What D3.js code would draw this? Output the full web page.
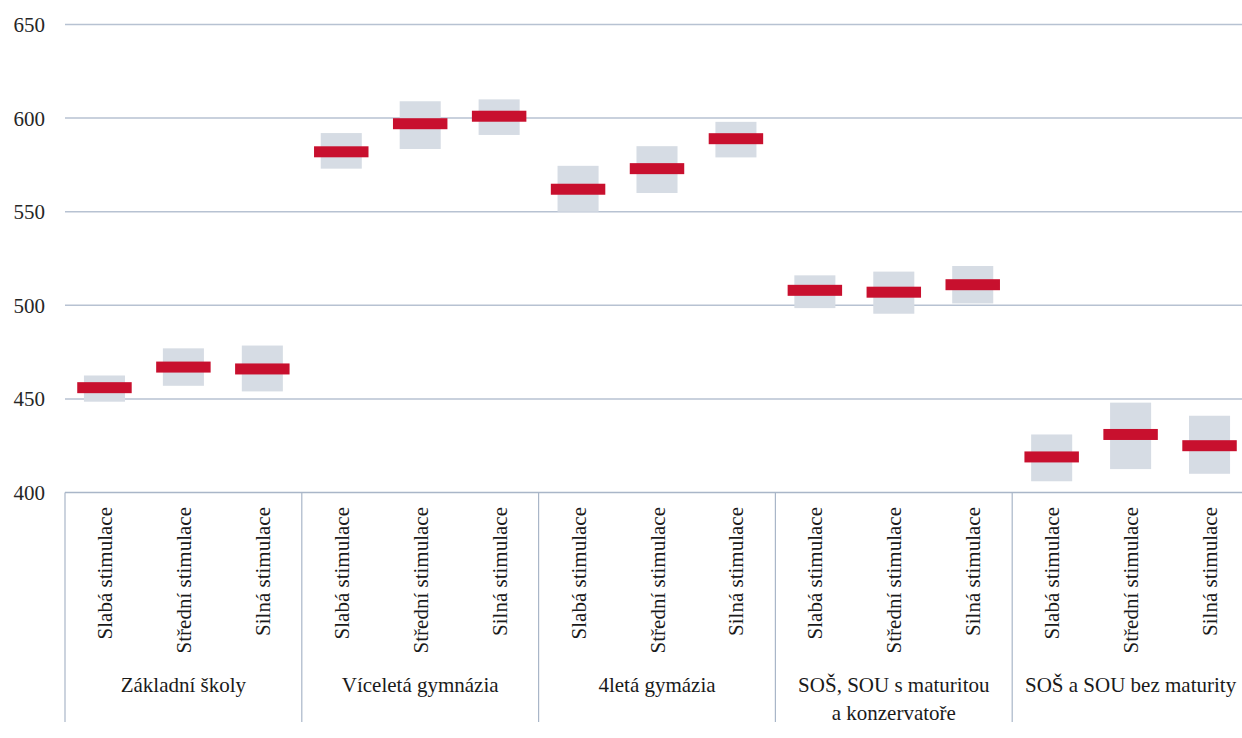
<!DOCTYPE html>
<html>
<head>
<meta charset="utf-8">
<script src="https://cdn.jsdelivr.net/npm/d3@7"></script>
</head>
<body style="margin:0">
<svg id="chart" width="1242" height="738"></svg>
<script>
// school types and stimulation levels
const groups = ["Základní školy", "Víceletá gymnázia", "4letá gymázia", "SOŠ, SOU s maturitou\na konzervatoře", "SOŠ a SOU bez maturity"];
const levels = ["Slabá stimulace", "Střední stimulace", "Silná stimulace"];

// mean score per group (one row per group, one value per level)
const means = [
	[456, 467, 466],
	[582, 597, 601],
	[562, 573, 589],
	[508, 507, 511],
	[419, 431, 425]
];
// confidence interval lows and highs
const lows = [
	[448.5, 457, 454],
	[573, 583.5, 591],
	[550, 560, 579],
	[498.5, 495.5, 501],
	[406, 412.5, 410]
];
const highs = [
	[462.5, 477, 478.5],
	[592, 609, 610],
	[574.5, 585, 598],
	[516, 518, 521],
	[431, 448, 441]
];
const yTicks = [400, 450, 500, 550, 600, 650];

const mLeft = 65, mRight = 1249, mTop = 24.5, mBottom = 492.5;
const serif = "\"Times New Roman\"";

const svg = d3.select("#chart");

const yScale = d3.scaleLinear()
	.domain([400, 650])
	.range([mBottom, mTop]);

const xGroup = d3.scaleBand()
	.domain(groups)
	.range([mLeft, mRight]);

const xLevel = d3.scaleBand()
	.domain(levels)
	.range([0, xGroup.bandwidth()]);

// gridlines
svg.append("g")
	.selectAll("line")
	.data(yTicks.filter(d => d > 400))
	.enter()
	.append("line")
	.attr("x1", mLeft)
	.attr("x2", mRight)
	.attr("y1", d => yScale(d))
	.attr("y2", d => yScale(d))
	.attr("stroke", "#b7c2d2")
	.attr("stroke-width", 1.5);

// y axis labels
const yAxis = d3.axisLeft(yScale).tickValues(yTicks).tickSize(0).tickPadding(20);
const yG = svg.append("g")
	.attr("transform", `translate(${mLeft},0)`)
	.call(yAxis);
yG.select(".domain").remove();
yG.selectAll("text")
	.style("font-family", serif)
	.style("font-size", "21px")
	.attr("fill", "#262626")
	.attr("dy", "0.33em");

// flatten data
const rows = [];
groups.forEach((g, gi) => {
	levels.forEach((l, li) => {
		rows.push({ group: g, level: l, mean: means[gi][li], low: lows[gi][li], high: highs[gi][li] });
	});
});

const bw = xLevel.bandwidth();
const cx = d => xGroup(d.group) + xLevel(d.level) + bw / 2;

// grey interval boxes
svg.append("g")
	.selectAll("rect")
	.data(rows)
	.enter()
	.append("rect")
	.attr("x", d => cx(d) - bw * 0.26)
	.attr("width", bw * 0.52)
	.attr("y", d => yScale(d.high))
	.attr("height", d => yScale(d.low) - yScale(d.high))
	.attr("fill", "#d6dce4");

// red mean bars
svg.append("g")
	.selectAll("rect")
	.data(rows)
	.enter()
	.append("rect")
	.attr("x", d => cx(d) - bw * 0.345)
	.attr("width", bw * 0.69)
	.attr("y", d => yScale(d.mean) - 5.5)
	.attr("height", 11)
	.attr("fill", "#c8102e");

// x axis line and group separators
svg.append("line")
	.attr("x1", mLeft)
	.attr("x2", mRight)
	.attr("y1", mBottom)
	.attr("y2", mBottom)
	.attr("stroke", "#a9b6c8")
	.attr("stroke-width", 1.5);

svg.append("g")
	.selectAll("line")
	.data(groups.map(g => xGroup(g)).concat([mRight]))
	.enter()
	.append("line")
	.attr("x1", d => d)
	.attr("x2", d => d)
	.attr("y1", mBottom)
	.attr("y2", 722)
	.attr("stroke", "#a9b6c8")
	.attr("stroke-width", 1.2);

// level labels, rotated
svg.append("g")
	.selectAll("text")
	.data(rows)
	.enter()
	.append("text")
	.attr("transform", d => `translate(${cx(d) + 7.5},507) rotate(-90)`)
	.attr("text-anchor", "end")
	.attr("fill", "#1a1a1a")
	.style("font-family", serif)
	.style("font-size", "21px")
	.text(d => d.level);

// group labels
const gl = svg.append("g")
	.selectAll("text")
	.data(groups)
	.enter()
	.append("text")
	.attr("x", d => xGroup(d) + xGroup.bandwidth() / 2)
	.attr("y", 692)
	.attr("text-anchor", "middle")
	.attr("fill", "#1a1a1a")
	.style("font-family", serif)
	.style("font-size", "21px");
gl.each(function(d) {
	const lines = d.split("\n");
	d3.select(this).selectAll("tspan")
		.data(lines)
		.enter()
		.append("tspan")
		.attr("x", xGroup(d) + xGroup.bandwidth() / 2)
		.attr("dy", (l, i) => i === 0 ? 0 : 28)
		.text(l => l);
});
</script>
</body>
</html>
